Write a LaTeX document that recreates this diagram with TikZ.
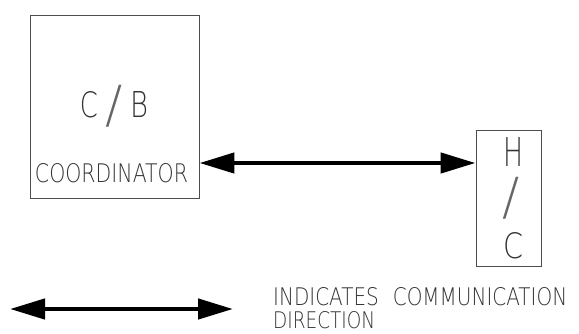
\documentclass[tikz,border=0pt]{standalone}
\usepackage{fontspec}
\setmainfont{DejaVu Sans ExtraLight}
\usetikzlibrary{arrows.meta}
\begin{document}
\begin{tikzpicture}[x=1pt,y=-1pt,
  boxstyle/.style={draw=black!70,line width=0.9pt,inner sep=0pt},
  cadtext/.style={text=black!80,inner sep=0pt,anchor=base},
  bigfont/.style={font=\fontsize{36}{36}\selectfont},
  commarrow/.style={line width=4.5pt,{Triangle[length=35pt,width=20pt]}-{Triangle[length=35pt,width=20pt]}}]
\path[use as bounding box] (0,0) rectangle (579,333);
% boxes
\node[boxstyle,minimum width=169pt,minimum height=183pt] (cb) at (114.5,106.5) {};
\node[boxstyle,minimum width=65pt,minimum height=136pt] (hc) at (508.5,198) {};
% texts in C/B box
\node[cadtext,bigfont] (cbtext) at (114,117) {\resizebox{18pt}{26pt}{C}\hspace{8pt}\raisebox{-5pt}{\textcolor{black!60}{\resizebox*{!}{42pt}{/}}}\hspace{7pt}\resizebox{18pt}{26pt}{B}};
\node[cadtext,font=\fontsize{26}{26}\selectfont] (coord) at (111.5,182) {\resizebox{153pt}{19pt}{COORDINATOR}};
% texts in H/C box
\node[cadtext,bigfont] (hch) at (513,166) {\resizebox{20pt}{29pt}{H}};
\node[cadtext,bigfont,anchor=center,text=black!60] (hcs) at (511,198) {\resizebox*{!}{42pt}{/}};
\node[cadtext,bigfont] (hcc) at (513,258) {\resizebox{20pt}{26pt}{C}};
% main connector
\coordinate (level) at (0,163);
\draw[commarrow] (cb.east |- level) -- (hc.west |- level);
% legend
\coordinate (legl) at (10,309);
\coordinate (legr) at (233,309);
\draw[commarrow] (legl) -- (legr);
\node[cadtext,anchor=base west,font=\fontsize{26}{26}\selectfont] (leg1) at (273,305) {\resizebox{294pt}{18pt}{INDICATES\hspace{0.7em}COMMUNICATION}};
\node[cadtext,anchor=base west,font=\fontsize{26}{26}\selectfont] (leg2) at (273,328) {\resizebox{102pt}{17pt}{DIRECTION}};
\end{tikzpicture}
\end{document}
